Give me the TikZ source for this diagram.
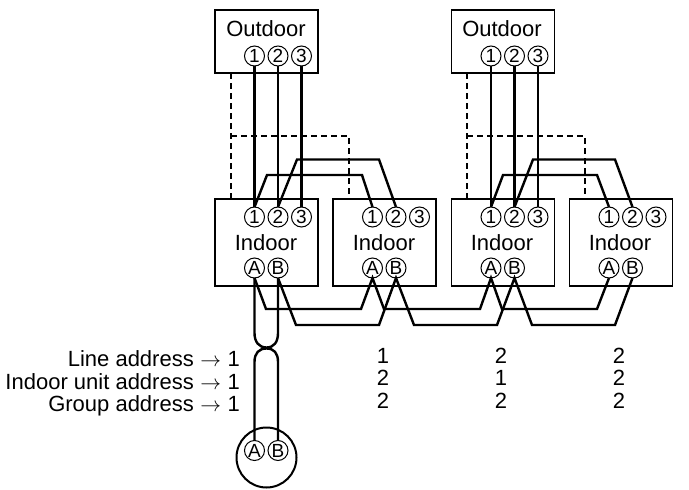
\documentclass[tikz,border=0pt]{standalone}
\usepackage{fontspec}
\setmainfont{Liberation Sans}
\tikzset{
  px/.style={x=1pt,y=-1pt},
  unitbox/.style={draw=black,line width=1.6pt,fill=white,minimum width=103pt,minimum height=#1,inner sep=0pt,outer sep=0pt},
  term/.style={draw=black,line width=1pt,circle,minimum size=20pt,inner sep=0pt,outer sep=0pt,font=\fontsize{19}{20}\selectfont},
  biglabel/.style={inner sep=0pt,anchor=base,font=\fontsize{22}{26}\selectfont},
  rowlabel/.style={inner sep=0pt,anchor=base east,font=\fontsize{22}{26}\selectfont},
  wire/.style={draw=black,line width=2.4pt,line join=miter},
  dashwire/.style={draw=black,line width=1.6pt,dash pattern=on 6pt off 4pt},
}
\newcommand{\toarrow}{\hspace{6.5pt}$\rightarrow$\hspace{6.5pt}}
\begin{document}
\begin{tikzpicture}[px]
\useasboundingbox (0,0) rectangle (689,490);
% units
\node[unitbox=63pt] (out1) at (266.5,41.5) {};
\node[unitbox=63pt] (out2) at (503,41.5) {};
\node[unitbox=87pt] (ind1) at (266.5,242.5) {};
\node[unitbox=87pt] (ind2) at (384.5,242.5) {};
\node[unitbox=87pt] (ind3) at (503,242.5) {};
\node[unitbox=87pt] (ind4) at (621,242.5) {};
\node[draw=black,line width=2pt,circle,minimum size=60pt,inner sep=0pt,outer sep=0pt] (rem) at (266.5,457.5) {};
% labels
\node[biglabel] (lo1) at (266,36) {Outdoor};
\node[biglabel] (lo2) at (502,36) {Outdoor};
\node[biglabel] (li1) at (266,250) {Indoor};
\node[biglabel] (li2) at (384,250) {Indoor};
\node[biglabel] (li3) at (502,250) {Indoor};
\node[biglabel] (li4) at (620,250) {Indoor};
% terminals
\foreach \n/\x in {out1/254.5,out2/491}{
  \node[term] (\n a) at (\x,56) {1};
  \node[term] (\n b) at (\x+23.5,56) {2};
  \node[term] (\n c) at (\x+47,56) {3};
}
\foreach \n/\x in {ind1/254.5,ind2/372.5,ind3/491,ind4/609}{
  \node[term] (\n a) at (\x,217) {1};
  \node[term] (\n b) at (\x+23.5,217) {2};
  \node[term] (\n c) at (\x+47,217) {3};
  \node[term] (\n A) at (\x,268) {A};
  \node[term] (\n B) at (\x+23.5,268) {B};
}
\node[term] (remA) at (254.5,450.5) {A};
\node[term] (remB) at (278,450.5) {B};
% outdoor to indoor
\foreach \s in {a,b,c}{
  \draw[wire] (out1\s.south) -- (ind1\s.north);
  \draw[wire] (out2\s.south) -- (ind3\s.north);
}
% crossovers
\draw[wire] (ind1a.north) -- (267,175) -- (362,175) -- (ind2a.north);
\draw[wire] (ind1b.north) -- (297,159.5) -- (379,159.5) -- (ind2b.north);
\draw[wire] (ind3a.north) -- (503,175) -- (597,175) -- (ind4a.north);
\draw[wire] (ind3b.north) -- (533,159.5) -- (615,159.5) -- (ind4b.north);
% bus
\draw[wire] (ind1A.south) -- (266,309) -- (361,309) -- (ind2A.south) -- (384,309) -- (480,309) -- (ind3A.south) -- (502,309) -- (597,309) -- (ind4A.south);
\draw[wire] (ind1B.south) -- (296,325) -- (379,325) -- (ind2B.south) -- (414,325) -- (497,325) -- (ind3B.south) -- (532,325) -- (615,325) -- (ind4B.south);
% remote loops
\draw[wire] (ind1A.south) -- (254.5,333) .. controls (254.5,342) and (259,347.5) .. (266.5,347.5) .. controls (274,347.5) and (278,342) .. (278,333) -- (ind1B.south);
\draw[wire] (remA.north) -- (254.5,362) .. controls (254.5,353) and (259,348.5) .. (266.5,348.5) .. controls (274,348.5) and (278,353) .. (278,362) -- (remB.north);
% dashed
\draw[dashwire] (231,73) -- (231,199);
\draw[dashwire] (231,136) -- (349,136) -- (349,199);
\draw[dashwire] (467,73) -- (467,199);
\draw[dashwire] (467,136) -- (585,136) -- (585,199);
% address text
\node[rowlabel] (r1) at (240,366) {Line address\toarrow 1};
\node[rowlabel] (r2) at (240,389) {Indoor unit address\toarrow 1};
\node[rowlabel] (r3) at (240,411) {Group address\toarrow 1};
\foreach \x/\p/\q/\r [count=\i] in {383/1/2/2,501/2/1/2,619/2/2/2}{
  \node[biglabel] (c\i a) at (\x,363) {\p};
  \node[biglabel] (c\i b) at (\x,385) {\q};
  \node[biglabel] (c\i c) at (\x,408) {\r};
}
\end{tikzpicture}
\end{document}
